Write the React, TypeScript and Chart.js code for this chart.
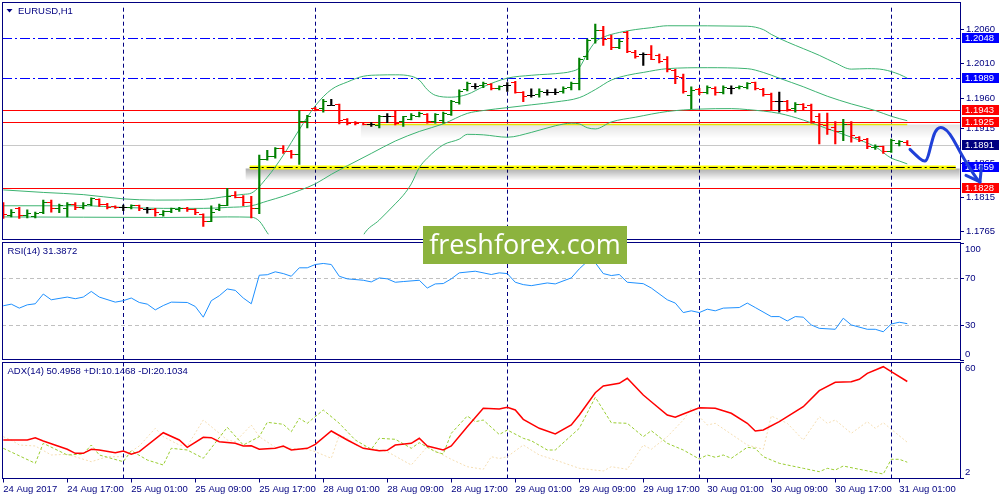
import React, { useEffect, useRef } from "react";
import { Chart, registerables } from "chart.js";

Chart.register(...registerables);

// ---------------- data ----------------
const opens = [
  1.18035, 1.17886, 1.17979, 1.17876, 1.17862, 1.17923, 1.18071, 1.17979, 1.17979, 1.18039,
  1.18001, 1.18048, 1.18118, 1.18048, 1.18015, 1.17993, 1.18001, 1.18025, 1.17969, 1.17969,
  1.17895, 1.17945, 1.17969, 1.17987, 1.17965, 1.17895, 1.17802, 1.17969, 1.18035, 1.18174,
  1.1815, 1.18071, 1.17979, 1.18697, 1.18745, 1.1886, 1.18822, 1.18777, 1.1925, 1.19449,
  1.1944, 1.19496, 1.195, 1.19292, 1.19246, 1.1924, 1.19208, 1.19194, 1.19333, 1.19324,
  1.19254, 1.19287, 1.19333, 1.19361, 1.19254, 1.19278, 1.19361, 1.19532, 1.19719, 1.19775,
  1.19779, 1.19797, 1.19733, 1.19779, 1.19825, 1.19677, 1.1964, 1.19649, 1.19686, 1.19686,
  1.19695, 1.19751, 1.19811, 1.20206, 1.20475, 1.20586, 1.20475, 1.20345, 1.20554, 1.20262,
  1.20242, 1.20242, 1.20228, 1.20159, 1.19997, 1.19904, 1.1964, 1.19719, 1.19686, 1.19741,
  1.19686, 1.19741, 1.19751, 1.19751, 1.19825, 1.19719, 1.19649, 1.19556, 1.19556, 1.1944,
  1.1951, 1.19486, 1.19324, 1.19194, 1.19162, 1.19115, 1.19208, 1.19023, 1.18999, 1.1887,
  1.18884, 1.18822, 1.1893, 1.18944,
];
const highs = [
  1.18071, 1.17969, 1.18001, 1.17965, 1.17932, 1.18108, 1.18108, 1.18048, 1.18071, 1.18071,
  1.18071, 1.1814, 1.18126, 1.18062, 1.18025, 1.18035, 1.18039, 1.18035, 1.18001, 1.17987,
  1.17955, 1.17993, 1.18001, 1.18001, 1.17979, 1.17909, 1.18025, 1.18048, 1.1828, 1.18234,
  1.18174, 1.18164, 1.18767, 1.18836, 1.18874, 1.18906, 1.18836, 1.19417, 1.19347, 1.19463,
  1.1958, 1.1958, 1.1951, 1.19301, 1.19254, 1.19246, 1.1924, 1.19347, 1.19371, 1.19417,
  1.19333, 1.19371, 1.19393, 1.19371, 1.19371, 1.19393, 1.19566, 1.19719, 1.19834, 1.19811,
  1.19834, 1.19811, 1.19779, 1.19825, 1.19844, 1.19695, 1.19733, 1.19733, 1.19719, 1.19733,
  1.19765, 1.19834, 1.20182, 1.20461, 1.20679, 1.20646, 1.20521, 1.20461, 1.20576, 1.20298,
  1.20262, 1.20368, 1.20242, 1.20206, 1.2002, 1.1995, 1.19765, 1.19741, 1.19779, 1.19765,
  1.19779, 1.19779, 1.19779, 1.19825, 1.19834, 1.19741, 1.19672, 1.19686, 1.19566, 1.19532,
  1.19518, 1.1951, 1.19371, 1.19379, 1.19254, 1.19287, 1.19254, 1.19037, 1.19009, 1.18916,
  1.18898, 1.18999, 1.18976, 1.18976,
];
const lows = [
  1.1784, 1.17862, 1.1784, 1.17848, 1.17848, 1.17909, 1.17932, 1.17923, 1.17862, 1.17969,
  1.17979, 1.18025, 1.18015, 1.17979, 1.17987, 1.17955, 1.17979, 1.17955, 1.17918, 1.17872,
  1.17872, 1.17923, 1.17941, 1.17941, 1.17895, 1.17723, 1.17792, 1.17955, 1.18025, 1.1814,
  1.18025, 1.17848, 1.17909, 1.18693, 1.18721, 1.1879, 1.18721, 1.18628, 1.19162, 1.19413,
  1.19393, 1.19496, 1.19222, 1.19208, 1.19208, 1.19208, 1.19184, 1.19162, 1.1924, 1.19208,
  1.19184, 1.19278, 1.19324, 1.19232, 1.19232, 1.19232, 1.19347, 1.1951, 1.19705, 1.19733,
  1.19751, 1.19719, 1.19719, 1.19695, 1.19672, 1.19546, 1.19612, 1.19612, 1.1964, 1.19649,
  1.19672, 1.19719, 1.19719, 1.20159, 1.20401, 1.20368, 1.20308, 1.20322, 1.20262, 1.20182,
  1.20075, 1.20159, 1.20113, 1.19983, 1.19811, 1.19672, 1.1944, 1.19649, 1.19658, 1.1964,
  1.19658, 1.19658, 1.19733, 1.19733, 1.19719, 1.19626, 1.19417, 1.19393, 1.19407, 1.19393,
  1.19417, 1.19232, 1.1893, 1.19069, 1.1893, 1.18976, 1.18953, 1.18962, 1.1886, 1.1885,
  1.1879, 1.18804, 1.18898, 1.18906,
];
const closes = [
  1.17895, 1.17932, 1.17876, 1.17909, 1.17909, 1.18071, 1.17987, 1.18025, 1.18039, 1.18001,
  1.18035, 1.18126, 1.18048, 1.18001, 1.17993, 1.17993, 1.18025, 1.17979, 1.17969, 1.17932,
  1.17941, 1.17979, 1.17987, 1.17969, 1.17923, 1.17792, 1.17923, 1.18035, 1.18164, 1.1815,
  1.18071, 1.17979, 1.18697, 1.18745, 1.1886, 1.18822, 1.18777, 1.19254, 1.19324, 1.19427,
  1.19556, 1.19496, 1.19278, 1.19232, 1.19222, 1.19218, 1.19208, 1.19324, 1.19333, 1.19232,
  1.19324, 1.19347, 1.19379, 1.19254, 1.19357, 1.19379, 1.19546, 1.19695, 1.19811, 1.19775,
  1.19811, 1.19733, 1.19765, 1.19779, 1.19686, 1.19626, 1.1964, 1.19695, 1.19686, 1.19686,
  1.19741, 1.19811, 1.20159, 1.20447, 1.20586, 1.20461, 1.20331, 1.20429, 1.20276, 1.20206,
  1.20242, 1.20169, 1.20137, 1.20011, 1.19918, 1.19695, 1.19709, 1.19677, 1.19751, 1.19686,
  1.19751, 1.19741, 1.19765, 1.19811, 1.19733, 1.19649, 1.19546, 1.19556, 1.19427, 1.1951,
  1.19463, 1.19254, 1.19208, 1.19138, 1.19115, 1.19208, 1.19045, 1.18976, 1.18898, 1.18888,
  1.18814, 1.18976, 1.18962, 1.1891,
];

// Bollinger bands [bar index, price]
const bbUpper: [number, number][] = [
  [0, 1.18257], [5, 1.1822], [10, 1.18188], [15, 1.18126], [19, 1.18108], [25, 1.18118], [28, 1.18164],
  [30, 1.18192], [31, 1.1821], [33, 1.18442], [35, 1.18763], [37, 1.19138], [39, 1.19486], [41, 1.19723],
  [43, 1.19834], [45, 1.19918], [47, 1.19936], [49, 1.19939], [51, 1.19918], [52, 1.19862], [53, 1.19723],
  [54, 1.1964], [56, 1.19612], [58, 1.19653], [60, 1.19765], [63, 1.1989], [66, 1.19932], [70, 1.19967],
  [71, 1.19988], [72, 1.20043], [73, 1.20252], [74, 1.20419], [75, 1.20489], [77, 1.20558], [79, 1.206],
  [81, 1.20628], [83, 1.20656], [93, 1.20649], [95, 1.206], [96, 1.2053], [98, 1.20419], [100, 1.20322],
  [102, 1.20224], [104, 1.20113], [106, 1.20022], [108, 1.20029], [110, 1.20015], [112, 1.19946], [113, 1.1989],
];
const bbMiddle: [number, number][] = [
  [0, 1.18025], [5, 1.18025], [10, 1.18025], [15, 1.18001], [20, 1.17987], [25, 1.17987], [28, 1.18001],
  [31, 1.18025], [33, 1.18094], [35, 1.18164], [37, 1.18248], [39, 1.18345], [41, 1.18484], [43, 1.18609],
  [46, 1.1879], [49, 1.18971], [52, 1.19111], [55, 1.19222], [58, 1.19375], [60, 1.19417], [63, 1.19459],
  [66, 1.195], [69, 1.19542], [72, 1.19605], [74, 1.19723], [76, 1.19862], [78, 1.19932], [80, 1.19974],
  [83, 1.20029], [88, 1.20043], [93, 1.20029], [95, 1.19974], [97, 1.1989], [100, 1.19765], [103, 1.19626],
  [106, 1.19514], [109, 1.19417], [111, 1.19333], [113, 1.19268],
];
const bbLower: [number, number][] = [
  [0, 1.17862], [10, 1.17858], [20, 1.17854], [25, 1.17858], [28, 1.17862], [31, 1.17858], [32, 1.17802],
  [33, 1.17631], [34, 1.17468], [36, 1.1719], [38, 1.16981], [40, 1.16842], [42, 1.16911], [44, 1.17301],
  [45, 1.17593], [47, 1.17816], [49, 1.18053], [50, 1.18178], [51, 1.18345], [52, 1.18582], [53, 1.18721],
  [55, 1.18916], [57, 1.18999], [58, 1.19069], [60, 1.19062], [63, 1.19027], [66, 1.19097], [69, 1.19194],
  [71, 1.19232], [72, 1.19222], [73, 1.19166], [74, 1.19148], [76, 1.1925], [79, 1.19319], [83, 1.19403],
  [87, 1.19438], [91, 1.19445], [93, 1.19431], [97, 1.19375], [100, 1.19278], [103, 1.19152], [106, 1.19027],
  [109, 1.18888], [111, 1.18721], [112, 1.18679], [113, 1.18637],
];

const rsiPoints: [number, number][] = [
  [0, 46.6], [1, 48], [2, 44.6], [3, 47.4], [4, 48.3], [5, 56.6], [6, 51.7], [8, 54], [9, 52.6], [10, 54],
  [11, 58.8], [12, 54], [14, 49.7], [15, 50.9], [16, 53.2], [17, 49.4], [18, 48], [19, 43.1], [20, 46.8],
  [21, 49.7], [23, 49.4], [24, 46], [25, 36.9], [26, 50.9], [27, 55.1], [28, 60.9], [29, 59.7], [30, 53.2],
  [31, 48.3], [32, 72.6], [33, 73], [34, 75.5], [35, 74], [36, 71.7], [37, 78.9], [38, 78.9], [39, 81.7],
  [40, 82.6], [41, 81.7], [42, 71.7], [43, 69.5], [45, 68.3], [46, 66.9], [47, 70.3], [48, 69.5], [49, 66.6],
  [50, 67.2], [52, 68.3], [53, 61.7], [54, 65.2], [55, 65.5], [56, 69.5], [57, 74.6], [59, 76], [61, 73.2],
  [62, 74.6], [63, 74], [64, 66.6], [65, 64.6], [66, 63.7], [68, 66], [69, 65.2], [71, 70.3], [72, 78],
  [73, 84.3], [74, 83.2], [75, 74], [76, 72.3], [77, 73.2], [78, 66.6], [80, 65.4], [81, 61.7], [83, 51.7],
  [84, 48.9], [85, 40.8], [86, 42.3], [87, 40.8], [88, 43.7], [89, 42.3], [90, 44.6], [92, 45.1], [93, 48.9],
  [94, 45.1], [96, 37.4], [97, 37.4], [98, 33.7], [99, 37.4], [100, 36.9], [101, 30.3], [102, 27.4],
  [104, 26.6], [105, 36], [106, 30.3], [108, 26.6], [109, 26.6], [110, 24.5], [111, 31.1], [112, 32.6],
  [113, 31.3872],
];

const adxPoints: [number, number][] = [
  [0, 21.25], [3, 21.25], [4, 22.4], [5, 20.75], [8, 16.6], [9, 14.6], [10, 14.6], [11, 16.6], [12, 16.25],
  [14, 14.9], [15, 15.75], [16, 14.1], [17, 15.4], [20, 24.9], [22, 21.25], [23, 17.6], [25, 22.6], [26, 22.4],
  [27, 20.4], [29, 19.6], [30, 18.25], [31, 18.4], [32, 16.6], [34, 17.1], [35, 18.25], [36, 16.25], [38, 17.1],
  [39, 19.1], [41, 25.75], [43, 21.25], [45, 17.1], [47, 15.9], [48, 16.1], [49, 18.75], [51, 19.6], [52, 22.1],
  [53, 18.25], [55, 16.25], [56, 18.25], [58, 27.9], [60, 37.1], [62, 36.75], [63, 37.6], [64, 36.25],
  [65, 31.6], [67, 27.1], [69, 24.25], [71, 28.75], [72, 33.75], [74, 44.9], [75, 48.25], [77, 49.6],
  [78, 52.1], [80, 43.75], [81, 40.4], [83, 33.75], [84, 32.6], [85, 34.25], [87, 37.4], [89, 37.1],
  [91, 34.6], [93, 29.6], [94, 25.75], [95, 26.25], [97, 30.4], [100, 37.9], [102, 45.9], [104, 50.1],
  [106, 50.4], [107, 51.6], [108, 54.6], [110, 57.9], [111, 55.4], [113, 50.4958],
];
const plusDiPoints: [number, number][] = [
  [0, 17.1], [4, 9.6], [5, 19.6], [8, 13.75], [10, 14.25], [11, 18.75], [12, 13.75], [15, 10.4], [16, 15.9],
  [18, 11.25], [20, 8.75], [21, 17.1], [23, 16.25], [25, 12.1], [28, 27.6], [30, 18.75], [32, 22.9], [33, 30.1],
  [35, 29.1], [36, 25.4], [37, 32.1], [38, 29.6], [40, 36.25], [42, 29.6], [44, 21.25], [46, 16.6], [47, 22.1],
  [49, 21.6], [51, 17.1], [52, 19.9], [54, 15.4], [55, 14.25], [56, 24.6], [58, 33.25], [59, 30.4], [60, 31.25],
  [62, 24], [63, 26.25], [65, 22.1], [66, 20.9], [68, 16.25], [69, 16.25], [72, 27.1], [74, 42.6], [76, 29.9],
  [78, 29.6], [80, 22.9], [81, 25.9], [83, 19.6], [85, 16.25], [87, 11.75], [88, 13.75], [89, 12.6], [90, 13.75],
  [91, 12.1], [93, 17.6], [94, 17.1], [95, 12.9], [97, 9.6], [100, 7.1], [102, 5.4], [103, 7.1], [104, 6.25],
  [105, 8.25], [107, 6.6], [110, 4.25], [111, 11.6], [112, 11.6], [113, 10.1468],
];
const minusDiPoints: [number, number][] = [
  [0, 22.9], [1, 21.25], [2, 18.75], [4, 18.25], [6, 13.75], [8, 14.1], [11, 10.4], [13, 12.9], [15, 12.9],
  [17, 18.25], [19, 27.1], [20, 22.9], [22, 18.75], [23, 18.25], [25, 31.25], [27, 24.6], [28, 21.25],
  [29, 20.4], [31, 28.75], [32, 22.9], [34, 17.6], [38, 16.6], [39, 15.4], [41, 12.1], [42, 23.75], [43, 22.1],
  [44, 18.75], [48, 15.4], [51, 8.75], [53, 17.9], [56, 11.6], [58, 7.9], [60, 6.6], [61, 12.9], [62, 12],
  [63, 12.9], [65, 18.75], [67, 13.75], [69, 11.25], [72, 7.1], [75, 5.75], [76, 7.9], [78, 6.6], [80, 18.75],
  [81, 16.6], [83, 22.9], [85, 31.25], [86, 37.1], [88, 28.75], [89, 29.6], [93, 18.75], [95, 16.6], [96, 33.25],
  [98, 29.6], [100, 21.25], [102, 32.9], [103, 29.6], [104, 31.25], [106, 24.6], [108, 30.4], [109, 27.1],
  [110, 29.9], [113, 20.1034],
];

const xTickIdx = [0, 8, 16, 24, 32, 40, 48, 56, 64, 72, 80, 88, 96, 104, 112];
const xTickLabels = [
  "24 Aug 2017", "24 Aug 17:00", "25 Aug 01:00", "25 Aug 09:00", "25 Aug 17:00", "28 Aug 01:00",
  "28 Aug 09:00", "28 Aug 17:00", "29 Aug 01:00", "29 Aug 09:00", "29 Aug 17:00", "30 Aug 01:00",
  "30 Aug 09:00", "30 Aug 17:00", "31 Aug 01:00",
];
const gridIdx = [15, 39, 63, 87, 111];
const priceTicks = [1.206, 1.201, 1.196, 1.1915, 1.1865, 1.1815, 1.1765];
const rsiTicks = [100, 70, 30, 0];
const rsiLevels = [70, 30];
const adxTicks = [60, 2];
const levelPrices = [1.2048, 1.1989, 1.1943, 1.1925, 1.1891, 1.1859, 1.1828];
const trendPrice = 1.19218;
const arrowPath: [number, number][] = [
  [113.34, 1.1885], [114.09, 1.18763], [114.97, 1.18675], [115.47, 1.18683], [116.05, 1.18953],
  [116.46, 1.19115], [117.09, 1.19184], [117.93, 1.19139], [118.75, 1.18999], [119.59, 1.18814],
  [120.63, 1.18605], [121.68, 1.18419], [122.09, 1.18373],
];
const arrowHead: [number, number][] = [[120.34, 1.1847], [122.09, 1.18373], [122.28, 1.18603]];

const symbolTitle = "EURUSD,H1";
const rsiTitle = "RSI(14) 31.3872";
const adxTitle = "ADX(14) 50.4958 +DI:10.1468 -DI:20.1034";
const watermarkText = "freshforex.com";

// ---------------- styles ----------------
const FONT = "'Liberation Sans', Arial, sans-serif";
const NAVY = "#000080";
const UP = "#008000";
const DOWN = "#ff0000";
const DOJI = "#000000";
const BAND = "#3cb371";
const X_MIN = -0.16;
const X_MAX = 119.59;
const P_MIN = 1.17608;
const P_MAX = 1.2092;

const levelStyles: any[] = [
  { line: "#0000ff", dash: [10, 3, 2, 3], box: "#0000ff" },
  { line: "#0000ff", dash: [10, 3, 2, 3], box: "#0000ff" },
  { line: "#ff0000", dash: [], box: "#ff0000" },
  { line: "#ff0000", dash: [], box: "#ff0000" },
  { line: "#c8c8c8", dash: [], box: "#000080" },
  { line: "#000000", dash: [9, 3, 2, 3], box: "#0000ff", highlight: "#ffff00", from: 30.8, to: 119.05 },
  { line: "#ff0000", dash: [], box: "#ff0000" },
];
const trendStyle = { from: 45.2, to: 113, color: "#e6e600" };
const WM = { x: 423, y: 226, w: 204, h: 38, fill: "#8cb33e" };

Chart.defaults.font.family = FONT;
Chart.defaults.font.size = 9.5;
Chart.defaults.color = NAVY;

const toXY = (arr: [number, number][]) => arr.map(([x, y]) => ({ x, y }));
const idx = opens.map((_, i) => i);
const colorOf = (i: number) => (closes[i] > opens[i] ? UP : closes[i] < opens[i] ? DOWN : DOJI);

function makeTick(color: string, side: "L" | "R") {
  const c = document.createElement("canvas");
  c.width = 8;
  c.height = 1;
  const g = c.getContext("2d")!;
  g.fillStyle = color;
  g.fillRect(side === "L" ? 0 : 4, 0, 4, 1);
  return c;
}

function gridAxis() {
  return {
    type: "linear",
    position: "bottom",
    min: X_MIN,
    max: X_MAX,
    bounds: "data",
    offset: false,
    afterBuildTicks: (s: any) => {
      s.ticks = gridIdx.map((v) => ({ value: v }));
    },
    ticks: { display: false },
    grid: { display: true, offset: false, drawOnChartArea: true, drawTicks: false, color: NAVY, lineWidth: 1 },
    border: { display: false, dash: [4, 3] },
  };
}

function drawBorder(ctx: any, top: number, bottom: number) {
  ctx.save();
  ctx.strokeStyle = NAVY;
  ctx.lineWidth = 1;
  ctx.strokeRect(2.5, top, 958, bottom - top);
  ctx.restore();
}

function drawWatermark(ctx: any, offsetTop: number) {
  ctx.save();
  ctx.fillStyle = WM.fill;
  ctx.fillRect(WM.x, WM.y - offsetTop, WM.w, WM.h);
  ctx.fillStyle = "#ffffff";
  ctx.font = "27px 'Open Sans', sans-serif";
  ctx.textAlign = "center";
  ctx.textBaseline = "alphabetic";
  ctx.fillText(watermarkText, WM.x + WM.w / 2, 254 - offsetTop);
  ctx.restore();
}

function drawTitle(ctx: any, text: string, x: number, y: number) {
  ctx.save();
  ctx.fillStyle = NAVY;
  ctx.font = `9.5px ${FONT}`;
  ctx.textAlign = "left";
  ctx.textBaseline = "middle";
  ctx.fillText(text, x, y);
  ctx.restore();
}

function drawSideLabels(chart: any, values: number[]) {
  const { ctx, chartArea: a } = chart;
  const ys = chart.scales.y;
  ctx.save();
  ctx.fillStyle = NAVY;
  ctx.font = `9.5px ${FONT}`;
  ctx.textAlign = "left";
  ctx.textBaseline = "middle";
  values.forEach((v) => {
    let y = ys.getPixelForValue(v);
    if (y - a.top < 5) y = a.top + 6;
    if (a.bottom - y < 5) y = a.bottom - 6;
    ctx.fillText(String(v), 965, y);
  });
  ctx.restore();
}

function smoothStroke(ctx: any, pts: number[][]) {
  ctx.beginPath();
  ctx.moveTo(pts[0][0], pts[0][1]);
  for (let i = 1; i < pts.length - 1; i++) {
    const mx = (pts[i][0] + pts[i + 1][0]) / 2;
    const my = (pts[i][1] + pts[i + 1][1]) / 2;
    ctx.quadraticCurveTo(pts[i][0], pts[i][1], mx, my);
  }
  const last = pts[pts.length - 1];
  ctx.lineTo(last[0], last[1]);
  ctx.stroke();
}

const mainPlugin = {
  id: "mainDecor",
  beforeDatasetsDraw(chart: any) {
    const { ctx, chartArea: a } = chart;
    const xs = chart.scales.x;
    const ys = chart.scales.y;
    ctx.save();
    ctx.beginPath();
    ctx.rect(a.left, a.top, a.right - a.left, a.bottom - a.top);
    ctx.clip();

    // trend line under 1.1925 with soft shadow
    const ty = Math.round(ys.getPixelForValue(trendPrice)) + 0.5;
    const tx0 = xs.getPixelForValue(trendStyle.from);
    const tx1 = xs.getPixelForValue(trendStyle.to);
    const g = ctx.createLinearGradient(0, ty, 0, ty + 14);
    g.addColorStop(0, "rgba(0,0,0,0.11)");
    g.addColorStop(1, "rgba(0,0,0,0)");
    ctx.fillStyle = g;
    ctx.fillRect(tx0 - 4, ty, a.right - tx0 + 4, 14);
    ctx.strokeStyle = trendStyle.color;
    ctx.lineWidth = 1.5;
    ctx.beginPath();
    ctx.moveTo(tx0, ty);
    ctx.lineTo(tx1, ty);
    ctx.stroke();

    levelPrices.forEach((p, k) => {
      const st = levelStyles[k];
      const y = Math.round(ys.getPixelForValue(p)) + 0.5;
      const x0 = st.from !== undefined ? xs.getPixelForValue(st.from) : a.left;
      const x1 = st.to !== undefined ? xs.getPixelForValue(st.to) : a.right;
      if (st.highlight) {
        const sg = ctx.createLinearGradient(0, y + 1, 0, y + 13);
        sg.addColorStop(0, "rgba(0,0,0,0.32)");
        sg.addColorStop(1, "rgba(0,0,0,0)");
        ctx.fillStyle = sg;
        ctx.fillRect(x0 - 4, y + 1, x1 - x0 + 8, 12);
        ctx.strokeStyle = st.highlight;
        ctx.lineWidth = 4;
        ctx.setLineDash([]);
        ctx.beginPath();
        ctx.moveTo(x0, y);
        ctx.lineTo(x1, y);
        ctx.stroke();
      }
      ctx.strokeStyle = st.line;
      ctx.lineWidth = 1;
      ctx.setLineDash(st.dash);
      ctx.beginPath();
      ctx.moveTo(x0, y);
      ctx.lineTo(x1, y);
      ctx.stroke();
    });
    ctx.setLineDash([]);
    ctx.restore();
  },
  afterDraw(chart: any) {
    const { ctx } = chart;
    const xs = chart.scales.x;
    const ys = chart.scales.y;
    drawBorder(ctx, 2.5, 239.5);

    // level label boxes
    ctx.save();
    ctx.font = `9.5px ${FONT}`;
    ctx.textAlign = "left";
    ctx.textBaseline = "middle";
    levelPrices.forEach((p, k) => {
      const y = ys.getPixelForValue(p);
      ctx.fillStyle = levelStyles[k].box;
      ctx.fillRect(962, Math.round(y) - 5, 37, 10);
      ctx.fillStyle = "#ffffff";
      ctx.fillText(p.toFixed(4), 965, Math.round(y) + 0.5);
    });
    ctx.restore();

    // hand-drawn arrow
    ctx.save();
    ctx.strokeStyle = "#2040d8";
    ctx.lineWidth = 3;
    ctx.lineJoin = "round";
    ctx.lineCap = "round";
    smoothStroke(ctx, arrowPath.map(([i, p]) => [xs.getPixelForValue(i), ys.getPixelForValue(p)]));
    ctx.beginPath();
    arrowHead.forEach(([i, p], n) => {
      const px = xs.getPixelForValue(i);
      const py = ys.getPixelForValue(p);
      if (n === 0) ctx.moveTo(px, py);
      else ctx.lineTo(px, py);
    });
    ctx.stroke();
    ctx.restore();

    // title
    ctx.save();
    ctx.fillStyle = NAVY;
    ctx.beginPath();
    ctx.moveTo(6.5, 9);
    ctx.lineTo(12.5, 9);
    ctx.lineTo(9.5, 12.5);
    ctx.closePath();
    ctx.fill();
    ctx.restore();
    drawTitle(ctx, symbolTitle, 18, 11);

    drawWatermark(ctx, 0);
  },
};

const rsiPlugin = {
  id: "rsiDecor",
  afterDraw(chart: any) {
    const { ctx } = chart;
    drawBorder(ctx, 0.5, 117.5);
    drawSideLabels(chart, rsiTicks);
    drawTitle(ctx, rsiTitle, 7.5, 9.5);
    drawWatermark(ctx, 242);
  },
};

const adxPlugin = {
  id: "adxDecor",
  afterDraw(chart: any) {
    const { ctx } = chart;
    drawBorder(ctx, 0.5, 116.5);
    drawSideLabels(chart, adxTicks);
    drawTitle(ctx, adxTitle, 7.5, 9.7);
  },
};

const baseOptions = (padding: any) => ({
  animation: false,
  responsive: true,
  maintainAspectRatio: false,
  events: [],
  layout: { padding, autoPadding: false },
  plugins: { legend: { display: false }, tooltip: { enabled: false } },
  elements: { point: { radius: 0 }, line: { tension: 0 } },
});

function mainConfig(): any {
  const tickImgs: any = {};
  [UP, DOWN, DOJI].forEach((c) => {
    tickImgs[c] = { L: makeTick(c, "L"), R: makeTick(c, "R") };
  });
  const band = (data: [number, number][]) => ({
    type: "line",
    data: toXY(data),
    borderColor: BAND,
    borderWidth: 1,
    pointRadius: 0,
    cubicInterpolationMode: "monotone",
    order: 5,
  });
  return {
    type: "line",
    data: {
      datasets: [
        {
          type: "line",
          data: idx.map((i) => ({ x: i, y: opens[i] })),
          showLine: false,
          pointRadius: 2,
          pointStyle: (c: any) => tickImgs[colorOf(c.dataIndex)].L,
          order: 0,
        },
        {
          type: "line",
          data: idx.map((i) => ({ x: i, y: closes[i] })),
          showLine: false,
          pointRadius: 2,
          pointStyle: (c: any) => tickImgs[colorOf(c.dataIndex)].R,
          order: 0,
        },
        {
          type: "bar",
          data: idx.map((i) => ({ x: i, y: [lows[i], highs[i]] })),
          backgroundColor: (c: any) => colorOf(c.dataIndex),
          borderWidth: 0,
          barThickness: 1.5,
          order: 1,
        },
        band(bbUpper),
        band(bbMiddle),
        band(bbLower),
      ],
    },
    options: {
      ...baseOptions({ top: 2, bottom: 2, left: 2, right: 0 }),
      scales: {
        x: gridAxis(),
        y: {
          type: "linear",
          position: "right",
          min: P_MIN,
          max: P_MAX,
          bounds: "data",
          afterBuildTicks: (s: any) => {
            s.ticks = priceTicks.map((v) => ({ value: v }));
          },
          afterFit: (s: any) => {
            s.width = 40;
          },
          ticks: { color: NAVY, padding: 2, font: { size: 9.5 }, callback: (v: any) => Number(v).toFixed(4) },
          grid: { drawOnChartArea: false, drawTicks: true, tickLength: 4, tickColor: NAVY },
          border: { display: true, color: NAVY },
        },
      },
    },
    plugins: [mainPlugin],
  };
}

function rsiConfig(): any {
  return {
    type: "line",
    data: {
      datasets: [
        { data: toXY(rsiPoints), borderColor: "#1e90ff", borderWidth: 1, pointRadius: 0 },
      ],
    },
    options: {
      ...baseOptions({ top: 1, bottom: 1.45, left: 2, right: 0 }),
      scales: {
        x: gridAxis(),
        y: {
          type: "linear",
          position: "right",
          min: 0,
          max: 100,
          bounds: "data",
          afterBuildTicks: (s: any) => {
            s.ticks = rsiTicks.map((v) => ({ value: v }));
          },
          afterFit: (s: any) => {
            s.width = 40;
          },
          ticks: { display: false },
          grid: {
            drawOnChartArea: true,
            drawTicks: true,
            tickLength: 4,
            tickColor: NAVY,
            color: (c: any) => (c.tick && rsiLevels.includes(c.tick.value) ? "#c0c0c0" : "rgba(0,0,0,0)"),
          },
          border: { display: true, color: NAVY, dash: [4, 3] },
        },
      },
    },
    plugins: [rsiPlugin],
  };
}

function adxConfig(): any {
  return {
    type: "line",
    data: {
      datasets: [
        { data: toXY(adxPoints), borderColor: "#ff0000", borderWidth: 1.5, pointRadius: 0, order: 0 },
        { data: toXY(plusDiPoints), borderColor: "#9acd32", borderWidth: 1, borderDash: [3, 2], pointRadius: 0, order: 1 },
        { data: toXY(minusDiPoints), borderColor: "#f5deb3", borderWidth: 1, borderDash: [2, 2], pointRadius: 0, order: 2 },
      ],
    },
    options: {
      ...baseOptions({ top: 0.5, bottom: 0, left: 2, right: 0 }),
      scales: {
        x: gridAxis(),
        xl: {
          type: "linear",
          position: "bottom",
          min: X_MIN,
          max: X_MAX,
          bounds: "data",
          offset: false,
          afterBuildTicks: (s: any) => {
            s.ticks = xTickIdx.map((v) => ({ value: v }));
          },
          afterFit: (s: any) => {
            s.height = 21.5;
            s.paddingLeft = 0;
            s.paddingRight = 0;
          },
          ticks: {
            display: true,
            autoSkip: false,
            maxRotation: 0,
            minRotation: 0,
            align: "start",
            padding: 1,
            color: NAVY,
            font: { size: 9.5 },
            callback: (_v: any, i: number) => xTickLabels[i],
          },
          grid: { offset: false, drawOnChartArea: false, drawTicks: true, tickLength: 4, tickColor: NAVY, color: NAVY },
          border: { display: false },
        },
        y: {
          type: "linear",
          position: "right",
          min: 2,
          max: 60,
          bounds: "data",
          afterBuildTicks: (s: any) => {
            s.ticks = adxTicks.map((v) => ({ value: v }));
          },
          afterFit: (s: any) => {
            s.width = 40;
          },
          ticks: { display: false },
          grid: { drawOnChartArea: false, drawTicks: true, tickLength: 4, tickColor: NAVY },
          border: { display: true, color: NAVY },
        },
      },
    },
    plugins: [adxPlugin],
  };
}

export default function App() {
  const mainRef = useRef<HTMLCanvasElement>(null);
  const rsiRef = useRef<HTMLCanvasElement>(null);
  const adxRef = useRef<HTMLCanvasElement>(null);

  useEffect(() => {
    const charts = [
      new Chart(mainRef.current as HTMLCanvasElement, mainConfig()),
      new Chart(rsiRef.current as HTMLCanvasElement, rsiConfig()),
      new Chart(adxRef.current as HTMLCanvasElement, adxConfig()),
    ];
    return () => charts.forEach((c) => c.destroy());
  }, []);

  const panel = (top: number, height: number): React.CSSProperties => ({
    position: "absolute",
    left: 0,
    top,
    width: 1000,
    height,
  });

  return (
    <div
      style={{
        position: "fixed",
        left: 0,
        top: 0,
        width: 1000,
        height: 500,
        background: "#ffffff",
        overflow: "hidden",
      }}
    >
      <div style={panel(0, 242)}>
        <canvas ref={mainRef} />
      </div>
      <div style={panel(242, 120)}>
        <canvas ref={rsiRef} />
      </div>
      <div style={panel(362, 138)}>
        <canvas ref={adxRef} />
      </div>
    </div>
  );
}
